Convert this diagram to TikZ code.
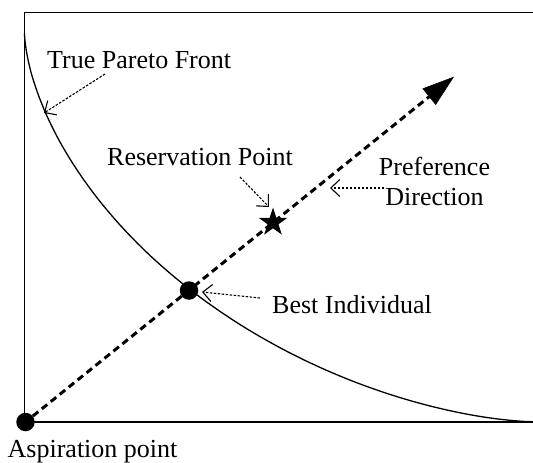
\documentclass[tikz,border=0pt]{standalone}
\usepackage{fontspec}
\setmainfont{Liberation Serif}
\usetikzlibrary{arrows.meta,shapes.geometric}
\tikzset{
  frameline/.style={line width=1.6pt},
  front/.style={line width=1.3pt},
  prefline/.style={line width=3pt, dash pattern=on 7pt off 4.5pt,
    -{Triangle[length=32pt,width=21pt,line width=0.5pt]}},
  annot/.style={line width=1.1pt, dash pattern=on 2.5pt off 1.5pt,
    -{Straight Barb[length=9pt,width=17pt]}},
  lbl/.style={inner sep=0pt, font=\fontsize{26}{30}\selectfont},
  dot/.style={circle, fill=black, inner sep=0pt, minimum size=18.5pt},
  starmark/.style={star, star points=5, star point ratio=2.618, fill=black,
    inner sep=0pt, minimum size=30pt},
}
\begin{document}
\begin{tikzpicture}[x=1pt,y=-1pt]
\useasboundingbox (0,0) rectangle (533,463);
% frame (left, top, bottom)
\draw[frameline] (533,12.3) -- (24.5,12.3) -- (24.5,421.7) -- (533,421.7);
% true Pareto front
\draw[front] (533,421.7) -- plot[domain=0.05:89.95, samples=160, variable=\t]
  ({24.5+508.5*pow(cos(\t),3.175)}, {421.7-388.7*pow(sin(\t),3.175)}) -- (24.5,33);
% preference direction
\node[dot] (asp) at (25.5,422) {};
\coordinate (tip) at (454,76.7);
\draw[prefline] (asp) -- (tip);
\node[dot] (best) at (189,290.5) {};
\node[starmark] (resv) at (273,222.5) {};
% labels
\node[lbl, anchor=base west] (tpfl) at (47,68) {True Pareto Front};
\node[lbl, anchor=base west] (resl) at (107,165) {Reservation Point};
\node[lbl, align=center] (prefl) at (434.5,181) {Preference\\Direction};
\node[lbl, anchor=base west] (bestl) at (272,313) {Best Individual};
\node[lbl, anchor=base west] (aspl) at (7.5,457) {Aspiration point};
% annotation arrows
\coordinate (tpfs) at (105,74);
\coordinate (tpfe) at (44,113);
\draw[annot] (tpfs) -- (tpfe);
\coordinate (ress) at (240,177);
\coordinate (rese) at (269,207);
\draw[annot] (ress) -- (rese);
\coordinate (dirs) at (384,188);
\coordinate (dire) at (330,188);
\draw[annot] (dirs) -- (dire);
\coordinate (bests) at (260,298);
\coordinate (beste) at (202,292);
\draw[annot] (bests) -- (beste);
\end{tikzpicture}
\end{document}
